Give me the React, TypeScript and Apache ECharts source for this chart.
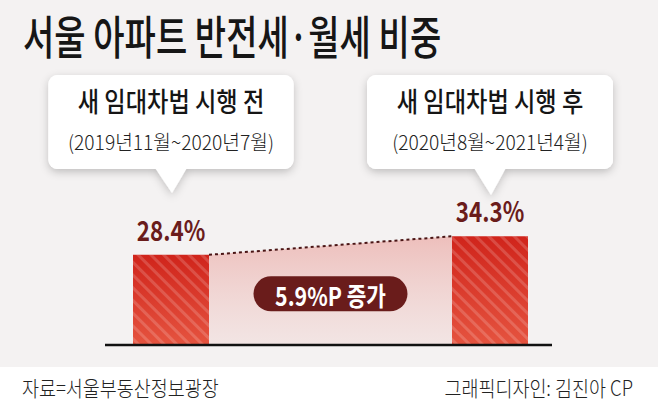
import React, { useEffect, useRef } from "react";
import * as echarts from "echarts";

const title = "서울 아파트 반전세·월세 비중";
const periods = ["새 임대차법 시행 전", "새 임대차법 시행 후"];
const ranges = ["(2019년11월~2020년7월)", "(2020년8월~2021년4월)"];
const shares = [28.4, 34.3];
const source = "자료=서울부동산정보광장";
const credit = "그래픽디자인: 김진아 CP";

const KR = "'Noto Sans CJK KR', 'Noto Sans', sans-serif";
const MAROON = "#6a1c1b";
const BAR_W = 76;

function bubble(cx: number, top: number, bottom: number, w: number, tipY: number, t1: string, t2: string) {
  const left = cx - w / 2;
  const h = bottom - top;
  const tip = [[cx - 16, bottom - 1], [cx + 16, bottom - 1], [cx + 1, tipY]];
  return {
    type: "group",
    children: [
      { type: "rect", shape: { x: left, y: top, width: w, height: h, r: 9 }, style: { fill: "#fff", shadowBlur: 8, shadowColor: "rgba(0,0,0,0.22)", shadowOffsetY: 3 }, z: 1 },
      { type: "polygon", shape: { points: tip }, style: { fill: "#fff", shadowBlur: 8, shadowColor: "rgba(0,0,0,0.2)", shadowOffsetY: 3 }, z: 1 },
      { type: "rect", shape: { x: left, y: top, width: w, height: h, r: 9 }, style: { fill: "#fff" }, z: 2 },
      { type: "text", x: cx, y: top + 25, scaleX: 0.86, style: { text: t1, x: 0, y: 0, align: "center", verticalAlign: "middle", font: `500 27px ${KR}`, fill: "#151515" }, z: 3 },
      { type: "text", x: cx, y: top + 66, scaleX: 0.96, style: { text: t2, x: 0, y: 0, align: "center", verticalAlign: "middle", font: `300 20px ${KR}`, fill: "#222" }, z: 3 },
    ],
  };
}

export default function App() {
  const ref = useRef<HTMLDivElement>(null);
  useEffect(() => {
    if (!ref.current) return;
    const chart = echarts.init(ref.current, null, { renderer: "svg" });

    const renderArea = (params: any, api: any) => {
      const p0 = api.coord([0, shares[0]]);
      const p1 = api.coord([1, shares[1]]);
      const b0 = api.coord([0, 0]);
      const b1 = api.coord([1, 0]);
      const half = BAR_W / 2;
      const x0 = p0[0] + half;
      const x1 = p1[0] - half;
      return {
        type: "group",
        children: [
          {
            type: "polygon",
            shape: { points: [[x0, p0[1]], [x1, p1[1]], [x1, b1[1]], [x0, b0[1]]] },
            style: {
              fill: new echarts.graphic.LinearGradient(0, 0, 0, 1, [
                { offset: 0, color: "rgba(228,120,112,0.42)" },
                { offset: 1, color: "rgba(236,175,170,0.2)" },
              ]),
            },
          },
          {
            type: "line",
            shape: { x1: x0, y1: p0[1], x2: x1, y2: p1[1] },
            style: { stroke: "#4a1515", lineWidth: 2, lineDash: [3, 3] },
          },
        ],
      };
    };

    const renderLabel = (params: any, api: any) => {
      const i = api.value(0);
      const v = api.value(1);
      const p = api.coord([i, v]);
      return {
        type: "text",
        x: p[0],
        y: p[1] - 26,
        scaleX: 0.8,
        style: { text: `${v}%`, x: 0, y: 0, align: "center", verticalAlign: "middle", font: `bold 28px ${KR}`, fill: MAROON },
      };
    };

    const renderPill = (params: any, api: any) => {
      const p0 = api.coord([0, shares[0]]);
      const p1 = api.coord([1, shares[1]]);
      const b0 = api.coord([0, 0]);
      const half = BAR_W / 2;
      const x0 = p0[0] + half;
      const x1 = p1[0] - half;
      const cx = (x0 + x1) / 2;
      const cy = ((p0[1] + p1[1]) / 2 + b0[1]) / 2 - 1;
      const diff = (shares[1] - shares[0]).toFixed(1);
      return {
        type: "group",
        children: [
          { type: "rect", shape: { x: cx - 77, y: cy - 17.5, width: 154, height: 35, r: 17.5 }, style: { fill: MAROON } },
          { type: "text", x: cx, y: cy + 1, scaleX: 0.82, style: { text: `${diff}%P 증가`, x: 0, y: 0, align: "center", verticalAlign: "middle", font: `bold 26px ${KR}`, fill: "#fff" } },
          { type: "line", shape: { x1: p0[0] - 66, y1: b0[1] + 1, x2: p1[0] + 62, y2: b0[1] + 1 }, style: { stroke: "#111", lineWidth: 2.5 } },
        ],
      };
    };

    chart.setOption({
      animation: false,
      backgroundColor: "#f4f2f2",
      grid: { left: 11.5, right: 8.5, top: 187, bottom: 63 },
      xAxis: { type: "category", data: periods, axisLine: { show: false }, axisTick: { show: false }, axisLabel: { show: false } },
      yAxis: { type: "value", min: 0, max: 50, show: false, splitLine: { show: false } },
      series: [
        { type: "custom", renderItem: renderArea, data: [0], z: 1, silent: true },
        {
          type: "bar",
          data: shares,
          barWidth: BAR_W,
          z: 2,
          itemStyle: {
            color: new echarts.graphic.LinearGradient(0, 0, 0, 1, [
              { offset: 0, color: "#d0241b" },
              { offset: 1, color: "#e5533f" },
            ]),
            decal: {
              symbol: "rect",
              symbolSize: 1,
              dashArrayX: [1, 0],
              dashArrayY: [3, 6],
              rotation: Math.PI / 4,
              color: "rgba(255,255,255,0.17)",
            },
          },
        },
        { type: "custom", renderItem: renderLabel, data: shares.map((v, i) => [i, v]), z: 3, silent: true },
        { type: "custom", renderItem: renderPill, data: [0], z: 3, silent: true },
      ],
      graphic: [
        { type: "rect", shape: { x: 0, y: 367, width: 658, height: 40 }, style: { fill: "#ffffff" }, z: -1 },
        { type: "text", x: 23, y: 34, scaleX: 0.74, style: { text: title, x: 0, y: 0, align: "left", verticalAlign: "middle", font: `500 46px ${KR}`, fill: "#161616" } },
        bubble(171, 75, 169, 245, 193, periods[0], ranges[0]),
        bubble(490, 75, 169, 246, 195, periods[1], ranges[1]),
        { type: "text", x: 22, y: 387, scaleX: 0.88, style: { text: source, x: 0, y: 0, align: "left", verticalAlign: "middle", font: `300 21px ${KR}`, fill: "#222" } },
        { type: "text", x: 633, y: 387, scaleX: 0.88, style: { text: credit, x: 0, y: 0, align: "right", verticalAlign: "middle", font: `300 21px ${KR}`, fill: "#222" } },
      ],
    });
    return () => chart.dispose();
  }, []);
  return <div ref={ref} style={{ position: "absolute", left: 0, top: 0, width: 658, height: 407 }} />;
}
